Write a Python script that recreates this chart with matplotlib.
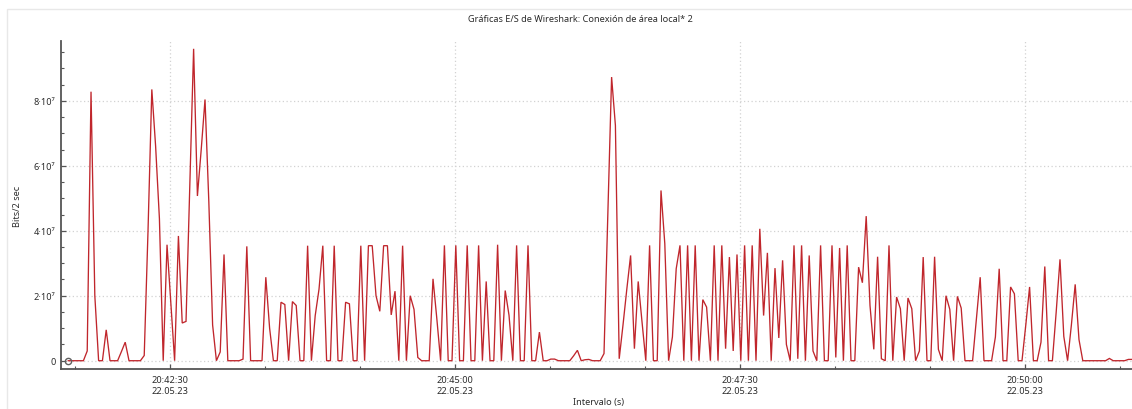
import matplotlib
matplotlib.use("Agg")
import matplotlib.pyplot as plt
from matplotlib.ticker import FixedLocator, FuncFormatter, MultipleLocator
from matplotlib.patches import Rectangle

# Capture information
capture_date = "22.05.23"
start_clock = (20, 41, 36.3)      # hh, mm, ss of first interval
interval_s = 2

# Traffic per 2 s interval, in Mbit
mbits = [
    0, 0, 0, 0, 0, 3, 82.8, 20, 0, 0,
    9.5, 0, 0, 0, 2.8, 5.7, 0, 0, 0, 0,
    1.6, 40, 83.5, 66, 43.7, 0, 35.7, 17.8, 0, 38.4,
    11.6, 12.1, 54, 96, 50.7, 65, 80.4, 49, 11, 0,
    2.7, 32.7, 0, 0, 0, 0, 0.5, 35.2, 0, 0,
    0, 0, 25.7, 10, 0, 0, 18, 17.3, 0, 18.2,
    17, 0, 0, 35.4, 0, 13.9, 22, 35.4, 0, 0,
    35.4, 0, 0, 18, 17.5, 0, 0, 35.4, 0, 35.4,
    35.4, 20, 15.2, 35.4, 35.4, 14.1, 21.4, 0, 35.4, 0,
    20, 15.8, 1, 0, 0, 0, 25.2, 13, 0, 35.5,
    0, 0, 35.5, 0, 0, 35.5, 0, 0, 35.5, 0,
    24.4, 0, 0, 35.7, 0, 21.6, 14, 0, 35.5, 0,
    0, 35.5, 0, 0, 8.8, 0, 0, 0.5, 0.5, 0,
    0, 0, 0, 1.5, 3.2, 0, 0.3, 0.4, 0, 0,
    0, 2.2, 45, 87.3, 72.4, 0.6, 11, 22, 32.4, 3.7,
    24.4, 12, 0, 35.5, 0, 0, 52.4, 36, 0, 7.3,
    28.3, 35.5, 0, 35.5, 0, 35.5, 0, 18.8, 16.5, 0,
    35.5, 0, 35.5, 3.7, 31.9, 3, 32.7, 0, 35.5, 0,
    35.5, 0, 40.6, 13.9, 33.2, 0, 28.5, 7, 30.9, 5,
    0, 35.5, 0.6, 35.5, 0, 32.4, 3, 0, 35.5, 0,
    0, 35.5, 1, 34.7, 0, 35.5, 0, 0, 28.8, 24,
    44.5, 17, 3.5, 32, 0.6, 0, 35.5, 0, 19.6, 16,
    0, 19.3, 16, 0, 3, 31.9, 0, 0, 32, 3.5,
    0, 20, 15.8, 0, 19.8, 16.2, 0, 0, 0, 13,
    25.7, 0, 0, 0, 7.3, 28.3, 0, 0, 22.7, 20.6,
    0, 0, 11, 22.7, 0, 0, 5.7, 29, 0, 0,
    15, 31.2, 7.5, 0, 11, 23.5, 6.5, 0, 0, 0,
    0, 0, 0, 0, 0.7, 0, 0, 0, 0, 0.4,
    0.4,
]

y_ticks = [0, 2e7, 4e7, 6e7, 8e7]
x_major_clock = ["20:42:30", "20:45:00", "20:47:30", "20:50:00"]

title = "Gráficas E/S de Wireshark: Conexión de área local* 2"
x_label = "Intervalo (s)"
y_label = "Bits/2 sec"

line_color = "#c0262c"
text_color = "#2b2b2b"
axis_color = "#555555"
grid_color = "#d2d2d2"
fonts = ["Noto Sans", "DejaVu Sans"]
fsize = 6.6

plt.rcParams["font.family"] = fonts


def clock_to_s(txt):
    h, m, s = txt.split(":")
    return int(h) * 3600 + int(m) * 60 + float(s)


t_start = start_clock[0] * 3600 + start_clock[1] * 60 + start_clock[2]
times = [t_start + interval_s * i for i in range(len(mbits))]
bits = [v * 1e6 for v in mbits]

fig = plt.figure(figsize=(11.32, 4.10), dpi=100)
W, H = 1132, 410
ax = fig.add_axes([61 / W, 1 - 370 / H, (1132 - 61) / W, (370 - 42) / H])

# light panel frame around the graph
fig.patches.append(Rectangle((7 / W, -0.1), 1.2, 1 - 10 / H + 0.1,
                             transform=fig.transFigure, fill=False,
                             edgecolor="#e8e8e8", linewidth=1.0))

ax.plot(times, bits, color=line_color, linewidth=0.95, solid_joinstyle="miter",
        zorder=3)
ax.plot([times[0]], [bits[0]], marker="o", markersize=4.5,
        markerfacecolor="none", markeredgecolor="#606060",
        markeredgewidth=1.0, zorder=4)

t_ref = clock_to_s(x_major_clock[0])
ax.set_xlim(t_ref - 57.5, t_ref + 506.2)
ax.set_ylim(-0.255e7, 9.84e7)

major_x = [clock_to_s(c) for c in x_major_clock]
ax.xaxis.set_major_locator(FixedLocator(major_x))
minor_x = [t_ref + 50 * k for k in range(-1, 11) if (50 * k) % 150 != 0]
ax.xaxis.set_minor_locator(FixedLocator(minor_x))


def fmt_time(v, pos=None):
    s = int(round(v))
    return f"{s // 3600:02d}:{(s // 60) % 60:02d}:{s % 60:02d}\n{capture_date}"


def fmt_bits(v, pos=None):
    if abs(v) < 1:
        return "0"
    return f"{v / 1e7:g}·10⁷"


ax.xaxis.set_major_formatter(FuncFormatter(fmt_time))
ax.yaxis.set_major_locator(FixedLocator(y_ticks))
ax.yaxis.set_minor_locator(MultipleLocator(0.5e7))
ax.yaxis.set_major_formatter(FuncFormatter(fmt_bits))

ax.grid(True, which="major", linestyle=(0, (1, 2)), color=grid_color,
        linewidth=0.9, zorder=0)

for side in ("top", "right"):
    ax.spines[side].set_visible(False)
for side in ("left", "bottom"):
    ax.spines[side].set_color(axis_color)
    ax.spines[side].set_linewidth(1.3)

ax.tick_params(which="major", direction="in", length=3.5, width=0.9,
               colors=axis_color, labelcolor=text_color, labelsize=fsize)
ax.tick_params(which="minor", direction="in", length=2.5, width=0.8,
               colors=axis_color)
ax.tick_params(axis="x", which="major", pad=4.5)
ax.tick_params(axis="y", which="major", pad=4)
for lab in ax.get_xticklabels():
    lab.set_linespacing(1.2)

ax.set_facecolor("white")
fig.text(580 / W, 1 - 20 / H, title, ha="center", va="center",
         fontsize=fsize, color=text_color)
fig.text(18 / W, 1 - 206 / H, y_label, ha="center", va="center",
         rotation=90, fontsize=fsize, color=text_color)
fig.text(599 / W, 1 - 403 / H, x_label, ha="center", va="center",
         fontsize=fsize, color=text_color)

fig.savefig("out.png", dpi=100, facecolor="white")
